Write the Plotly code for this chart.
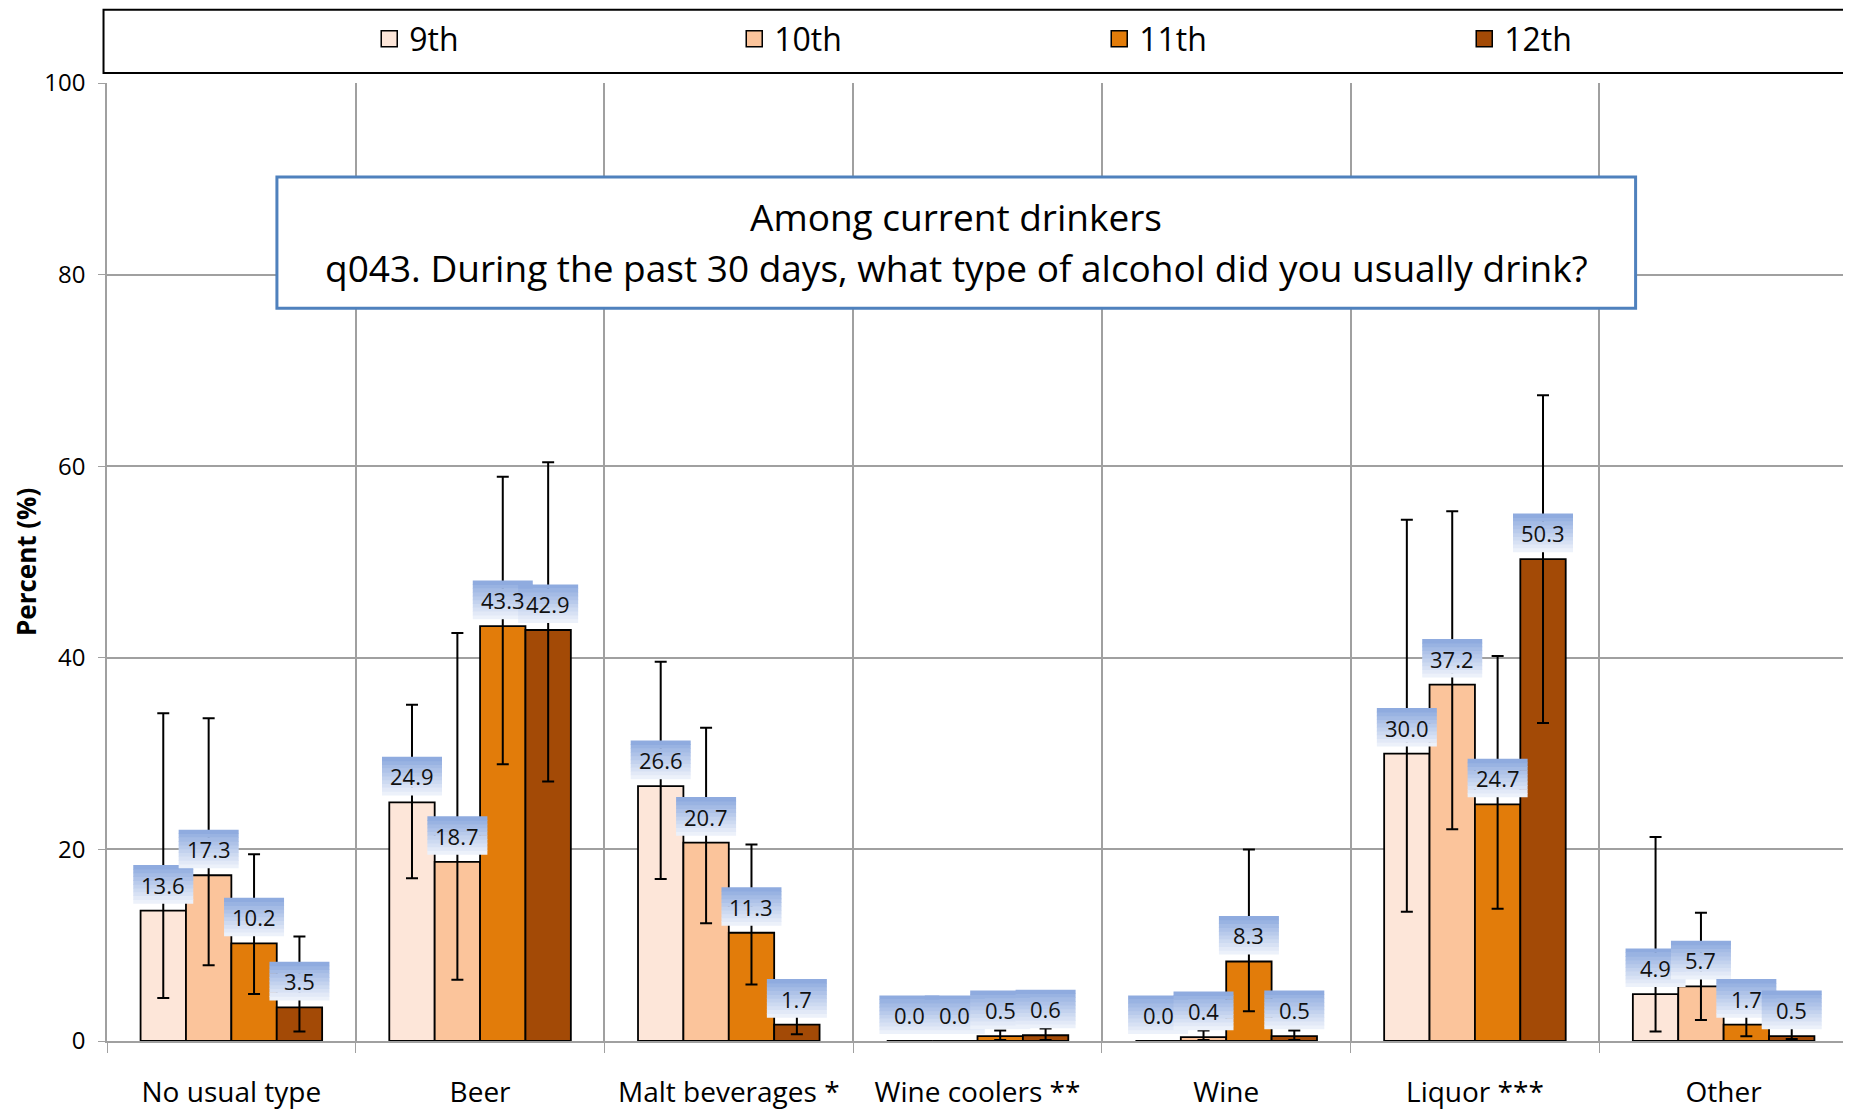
import plotly.graph_objects as go

categories = ["No usual type", "Beer", "Malt beverages *", "Wine coolers **", "Wine", "Liquor ***", "Other"]
grades = ["9th", "10th", "11th", "12th"]
colors = ["#FDE6D9", "#FBC49B", "#E27C0A", "#A34A06"]

pct_9 = [13.6, 24.9, 26.6, 0.0, 0.0, 30.0, 4.9]
pct_10 = [17.3, 18.7, 20.7, 0.0, 0.4, 37.2, 5.7]
pct_11 = [10.2, 43.3, 11.3, 0.5, 8.3, 24.7, 1.7]
pct_12 = [3.5, 42.9, 1.7, 0.6, 0.5, 50.3, 0.5]

lo_9 = [4.5, 17.0, 16.9, 0.0, 0.0, 13.5, 1.0]
hi_9 = [34.2, 35.1, 39.6, 0.0, 0.0, 54.4, 21.3]
lo_10 = [7.9, 6.4, 12.3, 0.0, 0.1, 22.1, 2.2]
hi_10 = [33.7, 42.6, 32.7, 0.0, 1.1, 55.3, 13.4]
lo_11 = [4.9, 28.9, 5.9, 0.1, 3.1, 13.8, 0.5]
hi_11 = [19.5, 58.9, 20.5, 1.1, 20.0, 40.2, 2.6]
lo_12 = [1.0, 27.1, 0.7, 0.1, 0.1, 33.2, 0.2]
hi_12 = [10.9, 60.4, 2.8, 1.3, 1.1, 67.4, 1.4]

values = [pct_9, pct_10, pct_11, pct_12]
lows = [lo_9, lo_10, lo_11, lo_12]
highs = [hi_9, hi_10, hi_11, hi_12]

title_lines = ["Among current drinkers",
               "q043. During the past 30 days, what type of alcohol did you usually drink?"]

FONT = "Open Sans"
BARGAP = 0.27

fig = go.Figure()
for name, col, v, lo, hi in zip(grades, colors, values, lows, highs):
    fig.add_trace(go.Bar(
        x=categories, y=v, name=name, showlegend=False,
        marker=dict(color=col, line=dict(color="black", width=1.8)),
        error_y=dict(type="data", symmetric=False,
                     array=[h - y if h > 0 else 0 for h, y in zip(hi, v)],
                     arrayminus=[y - l if h > 0 else 0 for l, y, h in zip(lo, v, hi)],
                     color="black", thickness=2, width=6),
    ))
    # bigger legend swatches than the bar default
    fig.add_trace(go.Scatter(
        x=[None], y=[None], mode="markers", name=name,
        marker=dict(symbol="square", size=20, color=col, line=dict(color="black", width=1.5)),
    ))

# data labels: gradient boxes (pixel-sized shapes) + text
n = len(grades)
bw = (1 - BARGAP) / n
top_rgb = (0x8F, 0xAB, 0xDF)
bot_rgb = (0xEC, 0xF1, 0xFA)
strips = 10
box_h = 38
gap = 7
shapes = []
annotations = []
for i, v in enumerate(values):
    for c, y in enumerate(v):
        xc = c - (1 - BARGAP) / 2 + bw * (i + 0.5)
        for k in range(strips):
            t = k / (strips - 1)
            rgb = tuple(round(b + (a - b) * t) for a, b in zip(top_rgb, bot_rgb))
            shapes.append(dict(
                type="rect", xref="x", yref="y", layer="above",
                xsizemode="pixel", ysizemode="pixel", xanchor=xc, yanchor=y,
                x0=-30, x1=30,
                y0=gap + box_h * k / strips, y1=gap + box_h * (k + 1) / strips + 0.6,
                fillcolor="rgb(%d,%d,%d)" % rgb, line=dict(width=0),
            ))
        annotations.append(dict(
            x=xc, y=y, xref="x", yref="y", text="%.1f" % y, showarrow=False,
            yanchor="middle", yshift=gap + box_h / 2,
            font=dict(family=FONT, size=22, color="#111"),
        ))

# legend frame
shapes.append(dict(type="rect", xref="paper", yref="paper", x0=-0.002, x1=1.0,
                   y0=1.0104, y1=1.0765, line=dict(color="black", width=2),
                   fillcolor="rgba(0,0,0,0)", layer="above"))
# question box
shapes.append(dict(type="rect", xref="paper", yref="y", x0=0.0976, x1=0.878,
                   y0=76.5, y1=90.2, line=dict(color="#4F81BD", width=3),
                   fillcolor="white", layer="above"))
for line, ty in zip(title_lines, [86.1, 80.7]):
    annotations.append(dict(
        xref="paper", yref="y", x=0.4878, y=ty, showarrow=False, text=line,
        yanchor="middle", font=dict(family=FONT, size=37, color="black"),
    ))
annotations.append(dict(
    xref="paper", yref="paper", x=-0.0465, y=0.5, showarrow=False, textangle=-90,
    xanchor="center", yanchor="middle",
    text="<b>Percent (%)</b>", font=dict(family=FONT, size=26, color="black"),
))

fig.update_layout(
    width=1843, height=1102,
    margin=dict(l=99, r=3, t=75, b=69, autoexpand=False),
    paper_bgcolor="white", plot_bgcolor="white",
    barmode="group", bargap=BARGAP, bargroupgap=0,
    font=dict(family=FONT, color="black"),
    shapes=shapes, annotations=annotations,
    legend=dict(orientation="h", xref="container", yref="container",
                x=0.196, y=0.972, xanchor="left", yanchor="middle",
                entrywidth=320, font=dict(family=FONT, size=32),
                bgcolor="rgba(0,0,0,0)"),
    xaxis=dict(type="category", tickson="boundaries", showgrid=True, automargin=False,
               gridcolor="#A0A0A0", gridwidth=1.5, ticks="outside", ticklen=10,
               tickcolor="#A0A0A0", showline=True, linecolor="#A0A0A0", linewidth=1.5,
               tickfont=dict(family=FONT, size=28), ticklabelstandoff=26),
    yaxis=dict(range=[0, 100], dtick=20, showgrid=True, gridcolor="#A0A0A0", gridwidth=1.5,
               automargin=False,
               ticks="outside", ticklen=7, tickcolor="#A0A0A0", showline=True,
               linecolor="#A0A0A0", linewidth=1.5, zeroline=False,
               tickfont=dict(family=FONT, size=24), ticklabelstandoff=8),
)

fig.write_html("out.html")
